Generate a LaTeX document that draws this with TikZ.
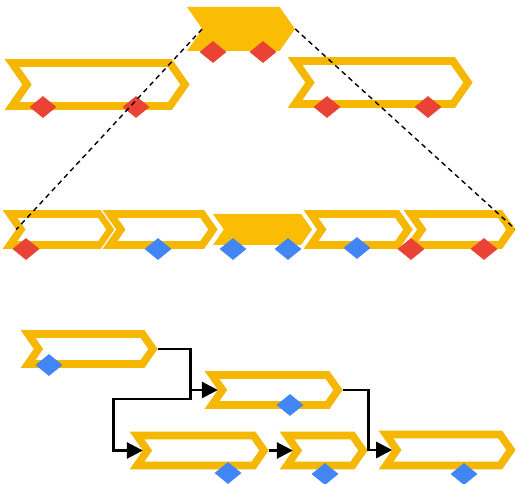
\documentclass[tikz,border=0pt]{standalone}
\usetikzlibrary{shapes.symbols,shapes.geometric,arrows.meta}
\definecolor{stageyellow}{HTML}{F5B700}
\definecolor{taskyellow}{HTML}{FBBC04}
\definecolor{latered}{HTML}{EA4335}
\definecolor{okblue}{HTML}{4285F4}
\tikzset{
  stage/.style={signal, signal from=west, signal to=east, signal pointer angle=110,
    inner sep=0pt, draw=stageyellow, line width=7.6pt,
    preaction={draw=white, line width=10.5pt}},
  task/.style={signal, signal from=west, signal to=east, signal pointer angle=110,
    inner sep=0pt, fill=taskyellow,
    preaction={draw=white, line width=6pt}},
  flag/.style={diamond, minimum width=27pt, minimum height=22pt, inner sep=0pt},
  late/.style={flag, fill=latered},
  ontime/.style={flag, fill=okblue},
  zoomline/.style={dashed, line width=1.4pt, dash pattern=on 5pt off 4pt},
  link/.style={line width=2.6pt, -{Triangle[length=16pt,width=16pt]}}
}
\begin{document}
\begin{tikzpicture}[x=1pt,y=-1pt]
        \useasboundingbox (0,0) rectangle (515,484);
        % верхний ряд
        \node[stage, minimum width=173pt, minimum height=43pt] (t1) at (98.5,84.5) {};
        \node[task, minimum width=108pt, minimum height=44pt] (t2) at (241,29) {};
        \node[stage, minimum width=173pt, minimum height=43pt] (t3) at (381.5,82.5) {};
        \node[late] (t1a) at (43,107) {};
        \node[late] (t1b) at (136,107) {};
        \node[late] (t2a) at (213,52) {};
        \node[late] (t2b) at (263,52) {};
        \node[late] (t3a) at (327,107) {};
        \node[late] (t3b) at (428,107) {};

        % средний ряд
        \node[stage, minimum width=101pt, minimum height=31pt] (m1) at (60.5,229.5) {};
        \node[stage, minimum width=103pt, minimum height=31pt] (m2) at (161.5,229.5) {};
        \node[task, minimum width=99pt, minimum height=31pt] (m3) at (262.5,229.5) {};
        \node[stage, minimum width=97pt, minimum height=31pt] (m4) at (359.5,229.5) {};
        \node[stage, minimum width=100pt, minimum height=31pt] (m5) at (461,229.5) {};
        \node[late] (m1a) at (26,249) {};
        \node[ontime] (m2a) at (158,249) {};
        \node[ontime] (m3a) at (233,249) {};
        \node[ontime] (m3b) at (288,249) {};
        \node[ontime] (m4a) at (357,248) {};
        \node[late] (m5a) at (411,249) {};
        \node[late] (m5b) at (484,249) {};

        % увеличение
        \draw[zoomline] (t2.west) -- (m1.west);
        \draw[zoomline] (t2.east) -- (m5.east);

        % нижний план
        \node[stage, minimum width=125pt, minimum height=30pt] (a) at (90.5,349) {};
        \node[stage, minimum width=126pt, minimum height=30pt] (b) at (275,390) {};
        \node[stage, minimum width=127pt, minimum height=30pt] (c) at (200.5,450.5) {};
        \node[stage, minimum width=76pt, minimum height=30pt] (d) at (325,450.5) {};
        \node[stage, minimum width=125pt, minimum height=31pt] (e) at (448.5,450) {};
        \node[ontime] (aa) at (49,365) {};
        \node[ontime] (ba) at (290,405) {};
        \node[ontime] (ca) at (228,473) {};
        \node[ontime] (da) at (325,474) {};
        \node[ontime] (ea) at (464,474) {};

        \draw[link] (a.east) -- ++(33,0) |- (b.west);
        \draw[link] (a.east) -- ++(33,0) -- ++(0,50) -- ++(-77,0) |- (c.west);
        \draw[link] (c.east) -- (d.west);
        \draw[link] (b.east) -- ++(26,0) |- (e.west);
    \end{tikzpicture}
\end{document}
